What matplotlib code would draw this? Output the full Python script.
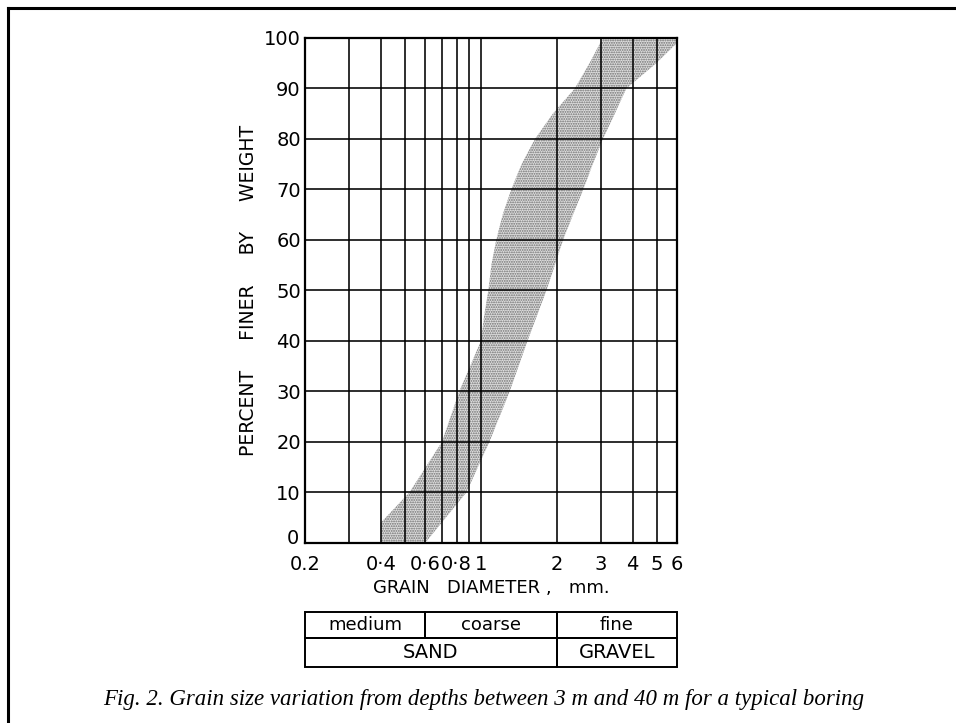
import matplotlib
matplotlib.use("Agg")
import matplotlib.pyplot as plt
from matplotlib.patches import Polygon, Rectangle
from matplotlib.lines import Line2D
import matplotlib.transforms as mtransforms

# ---- data ----
fine_edge_pct = [0, 4, 10, 20, 30, 40, 45, 50, 55, 60, 65, 70, 75, 80, 85, 90, 95, 100]
fine_edge_mm = [0.40, 0.40, 0.52, 0.70, 0.82, 1.00, 1.03, 1.07, 1.10, 1.15, 1.22, 1.32,
                1.45, 1.64, 1.93, 2.36, 2.70, 3.05]

coarse_edge_pct = [0, 10, 20, 30, 40, 50, 60, 65, 70, 75, 80, 85, 90, 95, 99, 100]
coarse_edge_mm = [0.60, 0.875, 1.08, 1.30, 1.53, 1.82, 2.12, 2.32, 2.55, 2.78, 3.05,
                  3.40, 3.78, 4.97, 6.0, 6.0]

x_ticks = [0.2, 0.4, 0.6, 0.8, 1, 2, 3, 4, 5, 6]
x_tick_labels = ["0.2", "0·4", "0·6", "0·8", "1", "2", "3", "4", "5", "6"]
x_grid = [0.3, 0.4, 0.5, 0.6, 0.7, 0.8, 0.9, 1, 2, 3, 4, 5]
y_ticks = [0, 10, 20, 30, 40, 50, 60, 70, 80, 90, 100]

class_top = [("medium", 0.2, 0.6), ("coarse", 0.6, 2.0), ("fine", 2.0, 6.0)]
class_bottom = [("SAND", 0.2, 2.0), ("GRAVEL", 2.0, 6.0)]

caption = "Fig. 2. Grain size variation from depths between 3 m and 40 m for a typical boring"

# ---- figure ----
fig = plt.figure(figsize=(9.56, 7.23), dpi=100)
ax = fig.add_axes([0.319, 0.249, 0.389, 0.6985])
ax.set_xscale("log")
ax.set_xlim(0.2, 6)
ax.set_ylim(0, 100)

# band
pts = list(zip(fine_edge_mm, fine_edge_pct)) + list(zip(coarse_edge_mm[::-1], coarse_edge_pct[::-1]))
plt.rcParams['hatch.linewidth'] = 0.9
band = Polygon(pts, closed=True, facecolor="#dedede", edgecolor="#6e6e6e",
               hatch="." * 7, linewidth=0, zorder=1)
ax.add_patch(band)

# grid
for xv in x_grid:
    ax.axvline(xv, color="black", lw=1.15, zorder=2)
for yv in y_ticks[1:-1]:
    ax.axhline(yv, color="black", lw=1.15, zorder=2)

for s in ax.spines.values():
    s.set_linewidth(1.6)
    s.set_zorder(3)

ax.set_xticks(x_ticks)
ax.set_xticklabels(x_tick_labels)
ax.xaxis.set_minor_locator(matplotlib.ticker.NullLocator())
ax.set_yticks(y_ticks)
ax.set_yticklabels([str(v) for v in y_ticks])
ax.tick_params(axis="both", length=0, labelsize=14)
ax.tick_params(axis="x", pad=9)
ax.tick_params(axis="y", pad=3)

# lift the "0" y label slightly as in the reference
zero_lab = ax.get_yticklabels()[0]
zero_lab.set_transform(zero_lab.get_transform() +
                       mtransforms.ScaledTranslation(-2 / 100, 6 / 100, fig.dpi_scale_trans))

ax.set_xlabel("GRAIN   DIAMETER ,   mm.", fontsize=13, labelpad=3)
ax.set_ylabel("PERCENT     FINER     BY     WEIGHT", fontsize=13.5, labelpad=4)

# classification table beneath, aligned to the data x-scale
trans = mtransforms.blended_transform_factory(ax.transData, fig.transFigure)
y_top, y_mid, y_bot = 0.1535, 0.1176, 0.0775
for (lab, x0, x1) in class_top:
    r = Rectangle((x0, y_mid), x1 - x0, y_top - y_mid, transform=trans,
                  fill=False, lw=1.4, edgecolor="black", clip_on=False)
    fig.add_artist(r)
    xc = (x0 * x1) ** 0.5
    fig.text(xc, (y_top + y_mid) / 2, lab, transform=trans, ha="center", va="center", fontsize=13)
for (lab, x0, x1) in class_bottom:
    r = Rectangle((x0, y_bot), x1 - x0, y_mid - y_bot, transform=trans,
                  fill=False, lw=1.4, edgecolor="black", clip_on=False)
    fig.add_artist(r)
    xc = (x0 * x1) ** 0.5
    fig.text(xc, (y_mid + y_bot) / 2, lab, transform=trans, ha="center", va="center", fontsize=14)

# caption
fig.text(0.108, 1 - 699 / 723, caption, fontsize=16.5, family="Liberation Serif",
         style="italic", ha="left", va="center")

# outer frame (top and left edges visible)
fig.add_artist(Line2D([8 / 956, 1.0], [1 - 8 / 723, 1 - 8 / 723], transform=fig.transFigure,
                      color="black", lw=2.2))
fig.add_artist(Line2D([8 / 956, 8 / 956], [1 - 8 / 723, 0.0], transform=fig.transFigure,
                      color="black", lw=2.2))

fig.savefig("out.png", dpi=100)
